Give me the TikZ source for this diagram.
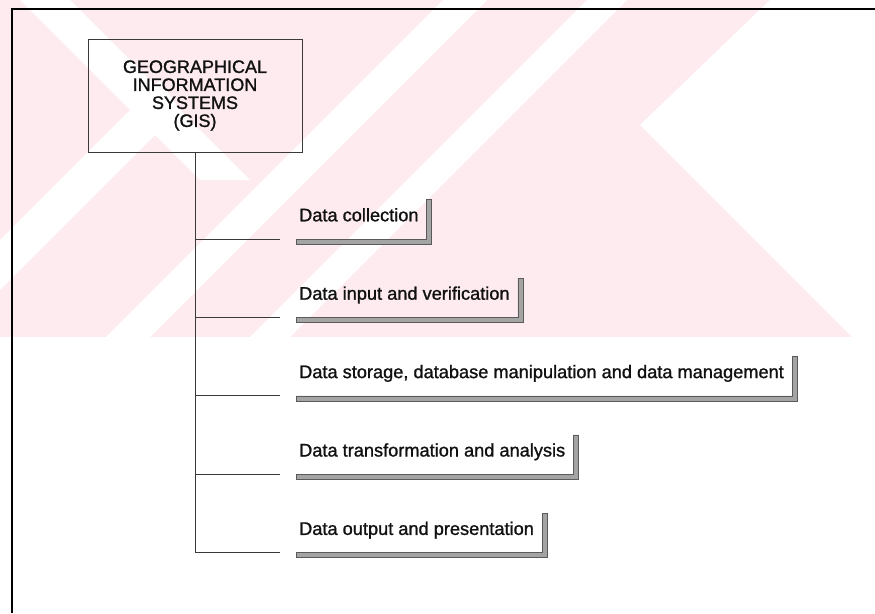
\documentclass[tikz,border=0pt]{standalone}
\usepackage{fontspec}
\setmainfont{Liberation Sans}[FakeBold=1.2]
\usetikzlibrary{positioning,calc}
\definecolor{ink}{HTML}{111111}
\definecolor{rule}{HTML}{3A3A3A}
\definecolor{shade}{HTML}{A4A4A4}
\definecolor{shadeedge}{HTML}{5A5A5A}
\definecolor{blush}{HTML}{FDEBEF}

\begin{document}
\begin{tikzpicture}[x=1pt,y=-1pt,node distance=34pt]
    \tikzset{
      topbox/.style={draw=rule,line width=0.9pt,minimum width=214pt,minimum height=113pt,align=center,font=\fontsize{18}{18}\selectfont,text=ink},
      item/.style={inner xsep=8pt,minimum height=44pt,text height=13pt,text depth=4pt,font=\fontsize{18.2}{18}\selectfont,text=ink},
      ledge/.style={fill=shade,draw=shadeedge,line width=0.6pt},
      branch/.style={draw=rule,line width=0.9pt},
      frame/.style={draw=black,line width=2pt}
    }
    \useasboundingbox (0,0) rectangle (875,613);
    % faint stamp in the upper half
    \fill[blush] (0,0) rectangle (875,337);
    \fill[white] (20,0) -- (70,0) -- (250,180) -- (200,180) -- cycle;
    \fill[white] (0,290) -- (0,240) -- (160,80) -- (180,110) -- cycle;
    \fill[white] (443,0) -- (487,0) -- (150,337) -- (106,337) -- cycle;
    \fill[white] (587,0) -- (627,0) -- (290,337) -- (250,337) -- cycle;
    \fill[white] (770,0) -- (875,0) -- (875,337) -- (852,337) -- (640,125) -- cycle;
    \draw[frame] (12,613) -- (12,9) -- (875,9);
    \node[topbox] (gis) at (195,95.5) {GEOGRAPHICAL\\INFORMATION\\SYSTEMS\\(GIS)};
    \node[item,anchor=south west] (collect) at (291,239) {Data collection};
    \node[item,below=of collect.south west,anchor=north west] (input) {Data input and verification};
    \node[item,below=of input.south west,anchor=north west] (storage) {Data storage, database manipulation and data management};
    \node[item,below=of storage.south west,anchor=north west] (analysis) {Data transformation and analysis};
    \node[item,below=of analysis.south west,anchor=north west] (output) {Data output and presentation};
    % shadow ledge under and right of every step
    \foreach \n in {collect,input,storage,analysis,output}
      \draw[ledge] ($(\n.south west)+(5,0)$) -- (\n.south east) -- ($(\n.north east)+(0,5)$)
        -- ($(\n.north east)+(5,5)$) -- ($(\n.south east)+(5,5)$) -- ($(\n.south west)+(5,5)$) -- cycle;
    \draw[branch] (gis.south) -- (gis.south |- output.south west);
    \foreach \n in {collect,input,storage,analysis,output}
      \draw[branch,shorten >=11pt] (gis.south |- \n.south west) -- (\n.south west);
  \end{tikzpicture}
\end{document}
